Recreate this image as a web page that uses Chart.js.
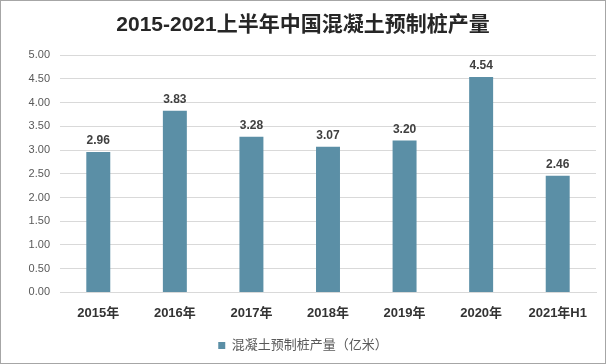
<!DOCTYPE html>
<html>
<head>
<meta charset="utf-8">
<script src="https://cdn.jsdelivr.net/npm/chart.js@4"></script>
<style>
  html, body { margin: 0; padding: 0; background: #fff; }
  #wrap { width: 606px; height: 364px; }
</style>
</head>
<body>
<div id="wrap"><canvas id="pileChart" width="606" height="364"></canvas></div>
<script>
const titleText = "2015-2021上半年中国混凝土预制桩产量";
const seriesName = "混凝土预制桩产量（亿米）";
const categories = ["2015年", "2016年", "2017年", "2018年", "2019年", "2020年", "2021年H1"];
const outputValues = [2.96, 3.83, 3.28, 3.07, 3.20, 4.54, 2.46];

const FONT = "'Liberation Sans', 'Noto Sans CJK SC', sans-serif";
const BAR_COLOR = "#5b8fa6";

// white background and thin frame
const framePlugin = {
    id: "frame",
    beforeDraw(chart){
        const ctx = chart.ctx;
        ctx.save();
        ctx.fillStyle = "#ffffff";
        ctx.fillRect(0, 0, chart.width, chart.height);
        ctx.restore();
    },
    afterDraw(chart){
        const ctx = chart.ctx;
        ctx.save();
        ctx.strokeStyle = "#a6a6a6";
        ctx.lineWidth = 1;
        ctx.strokeRect(0.5, 0.5, chart.width - 1, chart.height - 1);
        ctx.restore();
    }
};

// value labels above bars
const valueLabels = {
    id: "valueLabels",
    afterDatasetsDraw(chart){
        const ctx = chart.ctx;
        const meta = chart.getDatasetMeta(0);
        ctx.save();
        ctx.font = "bold 12px " + FONT;
        ctx.fillStyle = "#404040";
        ctx.textAlign = "center";
        ctx.textBaseline = "bottom";
        meta.data.forEach((bar, i)=>{
            ctx.fillText(outputValues[i].toFixed(2), bar.x, bar.y - 5);
        });
        ctx.restore();
    }
};

new Chart(document.getElementById("pileChart").getContext("2d"), {
    type: "bar",
    data: {
        labels: categories,
        datasets: [{
            label: seriesName,
            data: outputValues,
            backgroundColor: BAR_COLOR,
            borderWidth: 0,
            barPercentage: 0.313,
            categoryPercentage: 1
        }]
    },
    options: {
        responsive: false,
        animation: false,
        layout: {
            padding: { left: 10, right: 10, top: 0, bottom: 2 }
        },
        plugins: {
            title: {
                display: true,
                text: titleText,
                color: "#262626",
                font: { family: FONT, size: 21, weight: "bold" },
                padding: { top: 13, bottom: 17 }
            },
            legend: {
                position: "bottom",
                labels: {
                    boxWidth: 7,
                    boxHeight: 7,
                    padding: 5,
                    color: "#595959",
                    font: { family: FONT, size: 13 }
                }
            },
            tooltip: { enabled: false }
        },
        scales: {
            x: {
                grid: { display: false, drawTicks: false },
                border: { color: "#d9d9d9" },
                ticks: {
                    color: "#333333",
                    padding: 13,
                    maxRotation: 0,
                    font: { family: FONT, size: 13, weight: "bold" }
                }
            },
            y: {
                min: 0,
                max: 5,
                afterFit(scale){ scale.width = 50; },
                grid: { color: "#d9d9d9", drawTicks: false },
                border: { display: false },
                ticks: {
                    stepSize: 0.5,
                    padding: 10,
                    color: "#595959",
                    font: { family: FONT, size: 11 },
                    callback: v => v.toFixed(2)
                }
            }
        }
    },
    plugins: [framePlugin, valueLabels]
});
</script>
</body>
</html>
